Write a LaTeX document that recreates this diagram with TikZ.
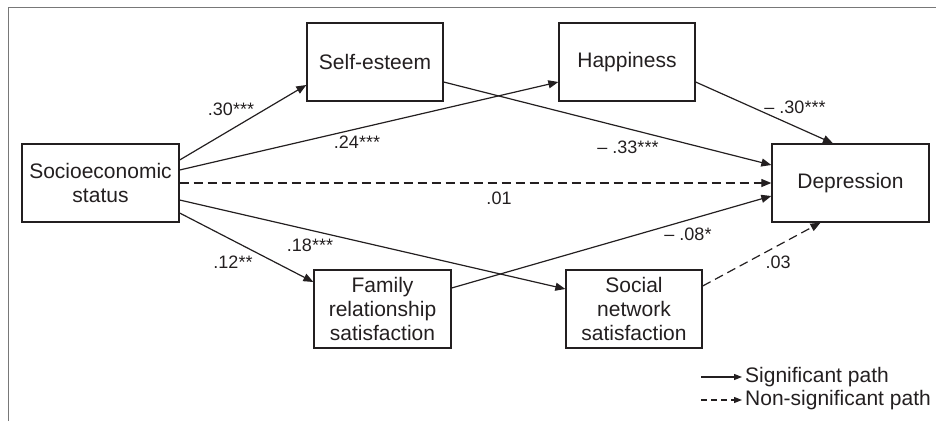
\documentclass[tikz,border=0pt]{standalone}
\usepackage{fontspec}
\setmainfont{Liberation Sans}
\usetikzlibrary{arrows.meta}
\definecolor{ink}{RGB}{35,31,32}
\definecolor{framegray}{RGB}{120,120,120}
\tikzset{
  box/.style={draw=ink, line width=1.3pt, rectangle, align=center, inner sep=0pt,
    minimum width=136pt, minimum height=78pt, font=\fontsize{21}{24}\selectfont, text=ink},
  wide/.style={minimum width=157pt},
  path/.style={draw=ink, line width=1.2pt, -{Triangle[length=10pt,width=8pt]}},
  nspath/.style={path, dash pattern=on 9pt off 5pt},
  lab/.style={font=\fontsize{18}{20}\selectfont, text=ink, inner sep=0pt},
  legtext/.style={font=\fontsize{21}{24}\selectfont, text=ink, inner sep=0pt, anchor=west}
}
\begin{document}
\begin{tikzpicture}[x=1pt,y=-1pt]
\useasboundingbox (0,0) rectangle (936,421);
% frame
\draw[framegray, line width=1pt] (8,421) -- (8,7) -- (936,7);
% nodes
\node[box,wide] (ses) at (100.5,183) {Socioeconomic\\status};
\node[box] (se) at (375,62) {Self-esteem};
\node[box] (hap) at (627,62) {Happiness};
\node[box,wide] (dep) at (850.5,183) {Depression};
\node[box,minimum width=137pt] (fam) at (382.5,309) {Family\\relationship\\satisfaction};
\node[box] (soc) at (634,309) {Social\\network\\satisfaction};
% paths
\draw[path] ([yshift=23pt]ses.east) -- ([yshift=-23pt]se.west);
\draw[path] ([yshift=13pt]ses.east) -- ([yshift=-20pt]hap.west);
\draw[nspath] (ses.east) -- (dep.west);
\draw[path] ([yshift=-17pt]ses.east) -- ([yshift=20pt]soc.west);
\draw[path] ([yshift=-30pt]ses.east) -- ([yshift=27pt]fam.west);
\draw[path] ([yshift=-20pt]se.east) -- ([yshift=18pt]dep.west);
\draw[path] ([yshift=-20pt]hap.east) -- ([xshift=-17.5pt]dep.north);
\draw[path] ([yshift=21pt]fam.east) -- ([yshift=-13pt]dep.west);
\draw[nspath] ([yshift=23pt]soc.east) -- ([xshift=-30pt]dep.south);
% labels
\node[lab] (l1) at (231,109) {.30***};
\node[lab] (l2) at (357,142) {.24***};
\node[lab] (l3) at (628,147) {– .33***};
\node[lab] (l4) at (499,198) {.01};
\node[lab] (l5) at (795,107) {– .30***};
\node[lab] (l6) at (233,262) {.12**};
\node[lab] (l7) at (310,245) {.18***};
\node[lab] (l8) at (688,234) {– .08*};
\node[lab] (l9) at (778,262) {.03};
% legend
\coordinate (la1) at (701,377);
\coordinate (lb1) at (742,377);
\coordinate (la2) at (701,400);
\coordinate (lb2) at (742,400);
\draw[path, -{Triangle[length=8pt,width=6pt]}] (la1) -- (lb1);
\draw[nspath, -{Triangle[length=8pt,width=6pt]}, dash pattern=on 6pt off 4pt] (la2) -- (lb2);
\node[legtext] (t1) at (745,377) {Significant path};
\node[legtext] (t2) at (745,400) {Non-significant path};
\end{tikzpicture}
\end{document}
